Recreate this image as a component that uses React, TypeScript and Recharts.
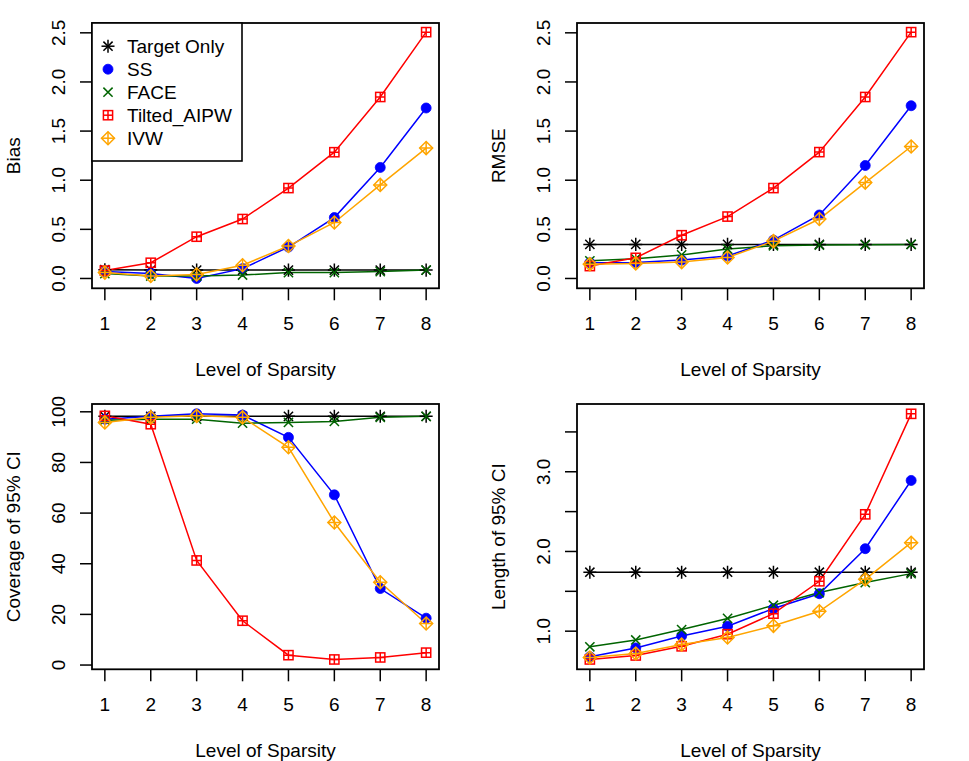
import React from 'react';
import { LineChart, Line, XAxis, YAxis, Customized } from 'recharts';

const levels = [1, 2, 3, 4, 5, 6, 7, 8];
const seriesNames = ['Target Only', 'SS', 'FACE', 'Tilted_AIPW', 'IVW'];
const seriesKeys = ['target', 'ss', 'face', 'tilted', 'ivw'];
const seriesColors = ['#000000', '#0000FF', '#006400', '#FF0000', '#FFA500'];
const seriesShapes = ['asterisk', 'circle', 'cross', 'squarePlus', 'diamondPlus'];

const biasTarget = [0.09, 0.085, 0.085, 0.085, 0.085, 0.085, 0.085, 0.085];
const biasSS = [0.07, 0.05, 0.0, 0.1, 0.32, 0.62, 1.13, 1.735];
const biasFACE = [0.05, 0.025, 0.025, 0.035, 0.06, 0.06, 0.07, 0.085];
const biasTilted = [0.08, 0.16, 0.425, 0.605, 0.92, 1.285, 1.847, 2.507];
const biasIVW = [0.06, 0.025, 0.04, 0.135, 0.33, 0.57, 0.952, 1.327];

const rmseTarget = [0.347, 0.347, 0.347, 0.347, 0.347, 0.347, 0.347, 0.347];
const rmseSS = [0.16, 0.163, 0.187, 0.228, 0.39, 0.646, 1.15, 1.758];
const rmseFACE = [0.18, 0.2, 0.24, 0.3, 0.333, 0.34, 0.343, 0.347];
const rmseTilted = [0.126, 0.21, 0.44, 0.63, 0.92, 1.286, 1.847, 2.507];
const rmseIVW = [0.146, 0.153, 0.167, 0.214, 0.38, 0.605, 0.976, 1.343];

const covTarget = [98.2, 98.2, 98.2, 98.2, 98.2, 98.2, 98.2, 98.2];
const covSS = [97.1, 98.2, 99.2, 98.7, 89.9, 67.2, 30.2, 18.5];
const covFACE = [96.7, 97.1, 97.1, 95.5, 95.8, 96.2, 97.8, 98.2];
const covTilted = [98.4, 95.1, 41.3, 17.5, 3.9, 2.2, 3.0, 4.9];
const covIVW = [95.8, 97.8, 98.4, 97.8, 86.0, 56.3, 32.7, 16.4];

const lenTarget = [1.74, 1.74, 1.74, 1.74, 1.74, 1.74, 1.74, 1.74];
const lenSS = [0.68, 0.79, 0.94, 1.063, 1.284, 1.47, 2.035, 2.891];
const lenFACE = [0.804, 0.89, 1.02, 1.16, 1.326, 1.484, 1.61, 1.722];
const lenTilted = [0.645, 0.695, 0.81, 0.962, 1.22, 1.626, 2.466, 3.727];
const lenIVW = [0.67, 0.72, 0.833, 0.92, 1.067, 1.25, 1.65, 2.11];

const xTicks = [1, 2, 3, 4, 5, 6, 7, 8];
const topTicks = [0, 0.5, 1.0, 1.5, 2.0, 2.5];
const covTicks = [0, 20, 40, 60, 80, 100];
const lenTicks = [1.0, 1.5, 2.0, 2.5, 3.0, 3.5];
const lenLabelled = [1.0, 2.0, 3.0];

const FONT = '"Liberation Sans", Arial, Helvetica, sans-serif';
const FS = 19;
const W = 484;
const H = 380;
const PL = 92;
const PR = 439;
const PT = 23;
const PB = 288.3;
const LW = 1.5;

function rows(s: number[][]) {
  return levels.map((lv, i) => {
    const r: any = { level: lv };
    seriesKeys.forEach((k, j) => {
      r[k] = s[j][i];
    });
    return r;
  });
}

function ext(lo: number, hi: number): [number, number] {
  const d = (hi - lo) * 0.04;
  return [lo - d, hi + d];
}

function dataRange(s: number[][]): [number, number] {
  const all = s.flat();
  return ext(Math.min(...all), Math.max(...all));
}

function Marker({ shape, cx, cy, color }: any) {
  const r = 4.6;
  const sw = LW;
  if (cx == null || cy == null) return null;
  if (shape === 'asterisk') {
    const b = r * Math.SQRT2;
    return (
      <g stroke={color} strokeWidth={sw}>
        <line x1={cx - r} y1={cy - r} x2={cx + r} y2={cy + r} />
        <line x1={cx - r} y1={cy + r} x2={cx + r} y2={cy - r} />
        <line x1={cx - b} y1={cy} x2={cx + b} y2={cy} />
        <line x1={cx} y1={cy - b} x2={cx} y2={cy + b} />
      </g>
    );
  }
  if (shape === 'circle') {
    return <circle cx={cx} cy={cy} r={r + 0.4} fill={color} stroke={color} strokeWidth={0.8} />;
  }
  if (shape === 'cross') {
    return (
      <g stroke={color} strokeWidth={sw}>
        <line x1={cx - r} y1={cy - r} x2={cx + r} y2={cy + r} />
        <line x1={cx - r} y1={cy + r} x2={cx + r} y2={cy - r} />
      </g>
    );
  }
  if (shape === 'squarePlus') {
    return (
      <g stroke={color} strokeWidth={sw} fill="none">
        <rect x={cx - r} y={cy - r} width={2 * r} height={2 * r} />
        <line x1={cx - r} y1={cy} x2={cx + r} y2={cy} />
        <line x1={cx} y1={cy - r} x2={cx} y2={cy + r} />
      </g>
    );
  }
  const b = r * Math.SQRT2;
  return (
    <g stroke={color} strokeWidth={sw} fill="none">
      <polygon points={`${cx - b},${cy} ${cx},${cy - b} ${cx + b},${cy} ${cx},${cy + b}`} />
      <line x1={cx - b} y1={cy} x2={cx + b} y2={cy} />
      <line x1={cx} y1={cy - b} x2={cx} y2={cy + b} />
    </g>
  );
}

function XTick(props: any) {
  const { x, y, payload } = props;
  return (
    <text x={x} y={y + 29.7} textAnchor="middle" fontSize={FS} fontFamily={FONT} fill="#000">
      {String(payload.value)}
    </text>
  );
}

function makeYTick(fmt: (v: number) => string) {
  return function YTick(props: any) {
    const { x, y, payload } = props;
    return (
      <text
        transform={`translate(${x - 15},${y}) rotate(-90)`}
        textAnchor="middle"
        fontSize={FS}
        fontFamily={FONT}
        fill="#000"
      >
        {fmt(payload.value)}
      </text>
    );
  };
}

function Frame({ yTitle, legend }: { yTitle: string; legend: boolean }) {
  const midX = (PL + PR) / 2;
  const midY = (PT + PB) / 2;
  return (
    <g fontFamily={FONT} fontSize={FS}>
      <rect x={PL} y={PT} width={PR - PL} height={PB - PT} fill="none" stroke="#000" strokeWidth={1.8} />
      <text x={midX} y={376} textAnchor="middle" fill="#000">
        Level of Sparsity
      </text>
      <text transform={`translate(20,${midY}) rotate(-90)`} textAnchor="middle" fill="#000">
        {yTitle}
      </text>
      {legend && (
        <g>
          <rect x={PL} y={PT} width={150} height={138} fill="#fff" stroke="#000" strokeWidth={1.6} />
          {seriesNames.map((n, i) => {
            const cy = 46.2 + i * 23;
            return (
              <g key={n}>
                <Marker shape={seriesShapes[i]} cx={108} cy={cy} color={seriesColors[i]} />
                <text x={127} y={cy + 7} fill="#000">
                  {n}
                </text>
              </g>
            );
          })}
        </g>
      )}
    </g>
  );
}

function Panel({
  series,
  domain,
  ticks,
  fmt,
  yTitle,
  legend,
  left,
  top,
}: {
  series: number[][];
  domain: [number, number];
  ticks: number[];
  fmt: (v: number) => string;
  yTitle: string;
  legend: boolean;
  left: number;
  top: number;
}) {
  const data = rows(series);
  const YTick = makeYTick(fmt);
  return (
    <div style={{ position: 'absolute', left, top, width: W, height: H }}>
      <LineChart width={W} height={H} data={data} margin={{ top: PT, right: W - PR, bottom: 31.7, left: PL - 60 }}>
        <XAxis
          dataKey="level"
          type="number"
          domain={[0.72, 8.28]}
          ticks={xTicks}
          interval={0}
          allowDataOverflow
          axisLine={false}
          tickSize={12}
          tickMargin={0}
          tickLine={{ stroke: '#000', strokeWidth: LW }}
          tick={<XTick />}
          height={60}
        />
        <YAxis
          type="number"
          domain={domain}
          ticks={ticks}
          interval={0}
          allowDataOverflow
          axisLine={false}
          tickSize={12}
          tickMargin={0}
          tickLine={{ stroke: '#000', strokeWidth: LW }}
          tick={<YTick />}
          width={60}
        />
        {seriesKeys.map((k, i) => (
          <Line
            key={k}
            dataKey={k}
            name={seriesNames[i]}
            stroke={seriesColors[i]}
            strokeWidth={LW}
            isAnimationActive={false}
            activeDot={false}
            dot={(p: any) => (
              <Marker key={`${k}-${p.index}`} shape={seriesShapes[i]} cx={p.cx} cy={p.cy} color={seriesColors[i]} />
            )}
          />
        ))}
        <Customized component={() => <Frame yTitle={yTitle} legend={legend} />} />
      </LineChart>
    </div>
  );
}

export default function App() {
  const bias = [biasTarget, biasSS, biasFACE, biasTilted, biasIVW];
  const rmse = [rmseTarget, rmseSS, rmseFACE, rmseTilted, rmseIVW];
  const cov = [covTarget, covSS, covFACE, covTilted, covIVW];
  const len = [lenTarget, lenSS, lenFACE, lenTilted, lenIVW];
  const one = (v: number) => v.toFixed(1);
  return (
    <div style={{ position: 'absolute', left: 0, top: 0, width: 969, height: 761, background: '#fff' }}>
      <Panel series={bias} domain={ext(0, 2.5)} ticks={topTicks} fmt={one} yTitle="Bias" legend left={0} top={0} />
      <Panel series={rmse} domain={ext(0, 2.5)} ticks={topTicks} fmt={one} yTitle="RMSE" legend={false} left={484.5} top={0} />
      <Panel
        series={cov}
        domain={dataRange(cov)}
        ticks={covTicks}
        fmt={(v) => String(v)}
        yTitle="Coverage of 95% CI"
        legend={false}
        left={0}
        top={380.5}
      />
      <Panel
        series={len}
        domain={dataRange(len)}
        ticks={lenTicks}
        fmt={(v) => (lenLabelled.includes(v) ? v.toFixed(1) : '')}
        yTitle="Length of 95% CI"
        legend={false}
        left={484.5}
        top={380.5}
      />
    </div>
  );
}
